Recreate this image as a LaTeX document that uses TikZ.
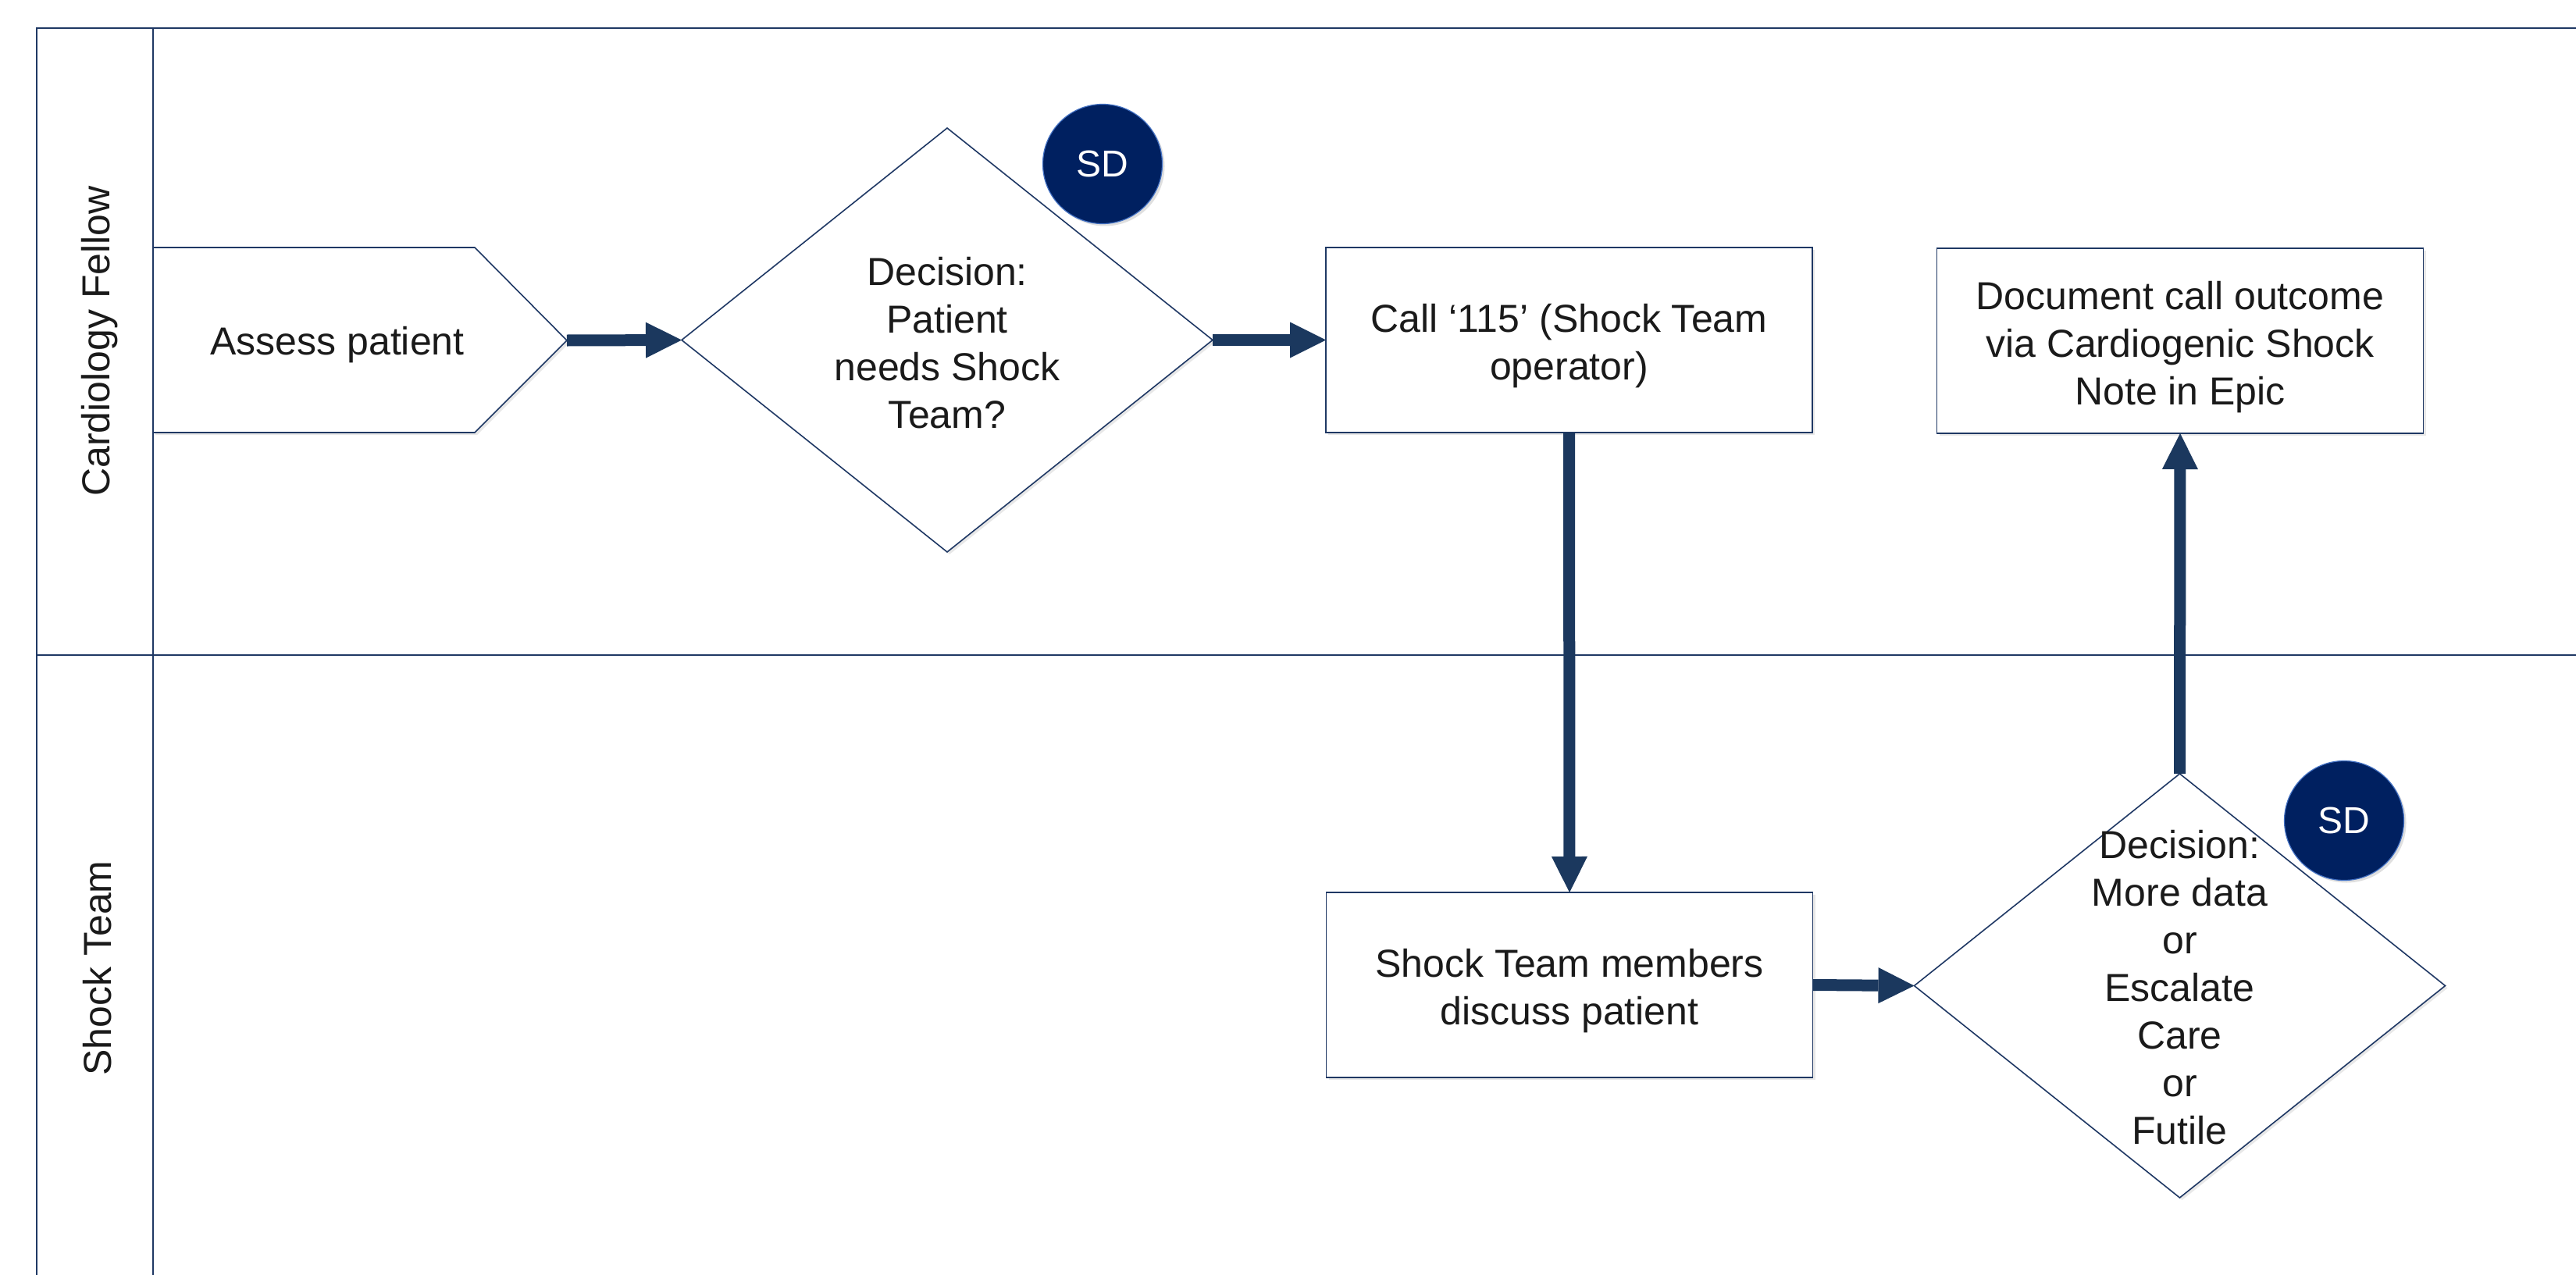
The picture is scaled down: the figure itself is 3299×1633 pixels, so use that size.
\documentclass[tikz,border=0pt]{standalone}
\usepackage{fontspec}
\setmainfont{Liberation Sans}
\usetikzlibrary{arrows.meta,shapes.geometric,shadows}
\definecolor{lanecol}{RGB}{31,56,100}
\definecolor{arrowcol}{RGB}{27,56,94}
\definecolor{sdfill}{RGB}{0,32,96}
\definecolor{sdedge}{RGB}{68,114,196}
\definecolor{txtcol}{RGB}{26,26,26}
\begin{document}
\begin{tikzpicture}[x=0.5pt,y=-0.5pt,
  lane/.style={draw=lanecol,line width=1pt},
  shp/.style={draw=lanecol,line width=0.8pt,fill=white,
    drop shadow={opacity=0.18,shadow xshift=1.5pt,shadow yshift=-1.5pt}},
  box/.style={shp,rectangle,minimum width=311.5pt,minimum height=118.5pt,inner sep=0pt,outer sep=0pt},
  dia/.style={shp,diamond,minimum width=340pt,minimum height=271.5pt,inner sep=0pt,outer sep=0pt},
  lbl/.style={text=txtcol,font=\fontsize{25}{30.5}\selectfont,align=center,inner sep=0pt},
  flow/.style={draw=arrowcol,line width=7.5pt,-{Triangle[length=23pt,width=23pt,line width=0pt]}},
  sd/.style={circle,fill=sdfill,draw=sdedge,line width=0.6pt,minimum size=76.5pt,inner sep=0pt,
    text=white,font=\fontsize{24}{28}\selectfont,
    drop shadow={opacity=0.25,shadow xshift=1.5pt,shadow yshift=-1.5pt}}
]
\useasboundingbox (0,0) rectangle (3299,1633);
\fill[white] (0,0) rectangle (3299,1633);

% swimlanes
\draw[lane] (3299,36) -- (47,36) -- (47,1633);
\draw[lane] (196,36) -- (196,1633);
\draw[lane] (47,839) -- (3299,839);
\node[lbl,rotate=90] (lanecf) at (128,437) {Cardiology Fellow};
\node[lbl,rotate=90] (lanest) at (125,1240) {Shock Team};

% Assess patient (pentagon)
\draw[shp] (196,317) -- (608,317) -- (726,436) -- (608,554) -- (196,554) -- cycle;
\coordinate (atip) at (726,436);
\node[lbl] (assess) at (432,442) {Assess patient};

% decision 1
\node[dia] (d1) at (1213,435.5) {};
\node[lbl,yshift=-2pt] (d1t) at (d1) {Decision:\\Patient\\needs Shock\\Team?};

% boxes
\node[box] (call) at (2009.5,435.5) {};
\node[lbl,yshift=-4pt] (callt) at (call) {Call ‘115’ (Shock Team\\operator)};

\node[box] (doc) at (2792,436.5) {};
\node[lbl,yshift=-4pt] (doct) at (doc) {Document call outcome\\via Cardiogenic Shock\\Note in Epic};

\node[box] (shock) at (2010,1261.5) {};
\node[lbl,yshift=-4pt] (shockt) at (shock) {Shock Team members\\discuss patient};

% decision 2
\node[dia] (d2) at (2791.5,1262.5) {};
\node[lbl,yshift=-1pt] (d2t) at (d2) {Decision:\\More data\\or\\Escalate\\Care\\or\\Futile};

% connectors
\draw[flow] (atip) -- (d1.west);
\draw[flow] (d1.east) -- (call.west);
\draw[flow] (call.south) -- (shock.north);
\draw[flow] (shock.east) -- (d2.west);
\draw[flow] (d2.north) -- (doc.south);

% SD badges
\node[sd] (sd1) at (1412,210) {SD};
\node[sd] (sd2) at (3002,1051) {SD};
\end{tikzpicture}
\end{document}
